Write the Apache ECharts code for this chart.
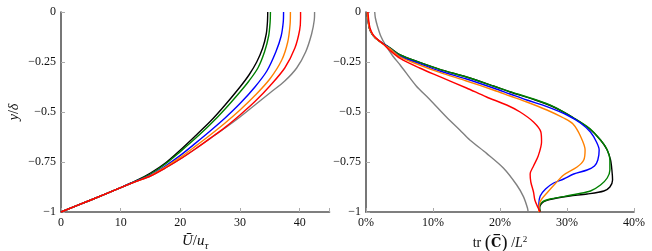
<!DOCTYPE html>
<html><head><meta charset="utf-8">
<script src="https://cdn.jsdelivr.net/npm/echarts@6/dist/echarts.min.js"></script>
<style>html,body{margin:0;padding:0;background:#fff}#c{width:652px;height:251px}</style>
</head><body><div id="c"></div>
<script>
// ---- data (x, y/delta) ----
const yTicks = [0, -0.25, -0.5, -0.75, -1];
const leftXTicks = [0, 10, 20, 30, 40];
const rightXTicks = [0, 10, 20, 30, 40]; // percent

// Left panel: mean velocity U/u_tau vs y/delta
const uGray   = [[0,-1],[5,-0.94],[10,-0.878],[12.5,-0.848],[15,-0.82],[17.5,-0.78],[20,-0.735],[22.5,-0.685],[25,-0.632],[27.5,-0.58],[30,-0.525],[32.5,-0.465],[35,-0.405],[37.5,-0.345],[39.5,-0.28],[41,-0.2],[42,-0.11],[42.45,-0.04],[42.5,0]];
const uBlack  = [[0,-1],[5,-0.94],[10,-0.878],[12.5,-0.845],[15,-0.805],[17.5,-0.755],[20,-0.69],[22.5,-0.62],[25,-0.548],[27.5,-0.465],[30,-0.375],[31.5,-0.315],[32.8,-0.25],[33.8,-0.18],[34.4,-0.11],[34.6,-0.05],[34.65,0]];
const uGreen  = [[0,-1],[5,-0.94],[10,-0.878],[12.5,-0.846],[15,-0.81],[17.5,-0.76],[20,-0.698],[22.5,-0.633],[25,-0.563],[27.5,-0.485],[30,-0.4],[31.5,-0.345],[33,-0.28],[34.1,-0.2],[34.8,-0.12],[35.05,-0.05],[35.1,0]];
const uBlue   = [[0,-1],[5,-0.94],[10,-0.878],[12.5,-0.847],[15,-0.815],[17.5,-0.77],[20,-0.717],[22.5,-0.657],[25,-0.595],[27.5,-0.53],[30,-0.458],[32.5,-0.375],[34.5,-0.295],[36,-0.2],[36.9,-0.12],[37.25,-0.05],[37.3,0]];
const uOrange = [[0,-1],[5,-0.94],[10,-0.878],[12.5,-0.848],[15,-0.818],[17.5,-0.775],[20,-0.727],[22.5,-0.672],[25,-0.615],[27.5,-0.555],[30,-0.49],[32.5,-0.418],[35,-0.335],[37,-0.24],[38,-0.15],[38.4,-0.06],[38.45,0]];
const uRed    = [[0,-1],[5,-0.94],[10,-0.878],[12.5,-0.848],[15,-0.82],[17.5,-0.78],[20,-0.735],[22.5,-0.685],[25,-0.632],[27.5,-0.577],[30,-0.515],[32.5,-0.448],[35,-0.37],[37.5,-0.28],[39.2,-0.18],[40,-0.09],[40.15,-0.03],[40.15,0]];

// Right panel: tr(C)/L^2 in percent vs y/delta
const cGray   = [[1.3,0],[1.4,-0.03],[1.7,-0.07],[2.2,-0.12],[2.9,-0.165],[4,-0.22],[5.1,-0.265],[7.5,-0.37],[9.3,-0.43],[12,-0.525],[14,-0.59],[15.5,-0.64],[18,-0.707],[20.5,-0.78],[22.5,-0.865],[23.5,-0.923],[24.1,-0.98],[24.2,-1]];
const cBlack  = [[0.15,0],[0.3,-0.04],[0.5,-0.08],[0.9,-0.11],[1.4,-0.13],[2.4,-0.155],[3.5,-0.178],[5.1,-0.215],[8,-0.252],[11,-0.287],[15,-0.325],[19,-0.37],[21.5,-0.4],[25,-0.437],[28,-0.475],[31,-0.53],[33.4,-0.585],[35,-0.64],[36,-0.69],[36.5,-0.74],[36.7,-0.79],[36.8,-0.84],[36.4,-0.875],[35.5,-0.895],[33,-0.91],[30.4,-0.92],[28.5,-0.93],[27,-0.942],[26.2,-0.957],[25.9,-0.98],[26,-1]];
const cGreen  = [[0.15,0],[0.3,-0.04],[0.5,-0.08],[0.9,-0.11],[1.4,-0.13],[2.4,-0.155],[3.5,-0.178],[5.1,-0.215],[8,-0.252],[11,-0.287],[15,-0.325],[19,-0.37],[21.5,-0.398],[25,-0.435],[28,-0.473],[31,-0.53],[33.4,-0.583],[35,-0.64],[35.9,-0.683],[36.4,-0.74],[36.4,-0.79],[36,-0.83],[35,-0.865],[33.5,-0.895],[31.5,-0.91],[29.5,-0.923],[27.5,-0.935],[26.3,-0.95],[25.9,-0.975],[26,-1]];
const cBlue   = [[0.15,0],[0.3,-0.04],[0.5,-0.08],[0.9,-0.11],[1.4,-0.13],[2.4,-0.155],[3.5,-0.18],[5.1,-0.222],[8,-0.258],[11,-0.295],[15,-0.335],[19,-0.38],[21.5,-0.41],[24,-0.44],[27,-0.473],[30,-0.515],[32,-0.555],[33.5,-0.6],[34.4,-0.65],[34.8,-0.69],[34.6,-0.74],[34.1,-0.77],[33,-0.79],[31,-0.81],[29.5,-0.835],[28,-0.855],[26.8,-0.885],[26,-0.92],[25.8,-0.96],[25.9,-1]];
const cOrange = [[0.15,0],[0.3,-0.04],[0.5,-0.08],[0.9,-0.11],[1.4,-0.13],[2.4,-0.157],[3.5,-0.182],[5.1,-0.225],[8,-0.265],[11,-0.302],[15,-0.345],[19,-0.39],[21.5,-0.42],[24,-0.45],[27,-0.49],[29.5,-0.53],[30.9,-0.56],[32,-0.62],[32.7,-0.69],[32.5,-0.74],[31.5,-0.775],[29.5,-0.815],[28.2,-0.86],[27,-0.905],[26,-0.948],[25.8,-1]];
const cRed    = [[0.3,0],[0.4,-0.04],[0.6,-0.08],[1.0,-0.11],[1.5,-0.13],[2.5,-0.158],[3.5,-0.19],[5.1,-0.232],[8,-0.28],[11,-0.323],[15,-0.38],[18,-0.425],[21,-0.465],[23,-0.5],[25,-0.55],[26.1,-0.6],[26.2,-0.65],[25.7,-0.72],[25,-0.77],[24.5,-0.81],[24.6,-0.85],[25,-0.9],[25.2,-0.94],[25.7,-0.98],[26,-1]];

const leftSeries  = [uGray, uBlack, uGreen, uBlue, uOrange, uRed];
const rightSeries = [cGray, cBlack, cGreen, cBlue, cOrange, cRed];
const colors = ['#808080', '#000000', '#008000', '#0000ff', '#ff8000', '#ff0000'];

// ---- chart ----
const FONT = 'Liberation Serif';
const axisLine = { show: true, onZero: false, lineStyle: { color: '#555', width: 1.6 } };
const axisTick = { show: true, inside: true, length: 4, lineStyle: { color: '#aaa', width: 1 } };
const lbl = { fontFamily: FONT, fontSize: 12, color: '#111' };
const yFmt = v => (yTicks.includes(v) ? (v === 0 ? '0' : '\u2212' + String(Math.abs(v))) : '');

const chart = echarts.init(document.getElementById('c'), null, { renderer: 'canvas' });
const yAxisBase = {
  type: 'value', min: -1, max: 0, interval: 0.25,
  axisLine, axisTick, splitLine: { show: false },
  axisLabel: Object.assign({ margin: 5, formatter: yFmt, showMinLabel: true, showMaxLabel: true }, lbl)
};
const series = [];
leftSeries.forEach((d, i) => series.push({
  type: 'line', xAxisIndex: 0, yAxisIndex: 0, data: d, showSymbol: false, smooth: 0.3,
  lineStyle: { color: colors[i], width: 1.4 }, z: 2 + i, silent: true
}));
rightSeries.forEach((d, i) => series.push({
  type: 'line', xAxisIndex: 1, yAxisIndex: 1, data: d, showSymbol: false, smooth: 0.3,
  lineStyle: { color: colors[i], width: 1.4 }, z: 2 + i, silent: true
}));

chart.setOption({
  animation: false,
  grid: [
    { left: 61, right: 322.5, top: 12, bottom: 39, containLabel: false, outerBoundsMode: 'none' },
    { left: 366, right: 18, top: 12, bottom: 39, containLabel: false, outerBoundsMode: 'none' }
  ],
  xAxis: [
    {
      gridIndex: 0, type: 'value', min: 0, max: 45, interval: 10,
      axisLine, axisTick, splitLine: { show: false },
      axisLabel: Object.assign({ margin: 5, formatter: v => leftXTicks.includes(v) ? String(v) : '' }, lbl),
      name: '{it|\u016A}{n|/}{it|u}{sub|\u03C4}', nameLocation: 'middle', nameGap: 15,
      nameTextStyle: { rich: {
        it: { fontFamily: FONT, fontStyle: 'italic', fontSize: 15, color: '#111' },
        n: { fontFamily: FONT, fontSize: 15, color: '#111' },
        sub: { fontFamily: FONT, fontStyle: 'italic', fontSize: 11, color: '#111', padding: [10, 0, 0, 0] }
      } }
    },
    {
      gridIndex: 1, type: 'value', min: 0, max: 40, interval: 10,
      axisLine, axisTick, splitLine: { show: false },
      axisLabel: Object.assign({ margin: 5, formatter: v => rightXTicks.includes(v) ? v + '%' : '' }, lbl),
      name: '{n|tr }{p|(}{b|C\u0305}{p|)}{n| /}{it|L}{sup|2}', nameLocation: 'middle', nameGap: 15,
      nameTextStyle: { rich: {
        n: { fontFamily: FONT, fontSize: 14, color: '#111' },
        p: { fontFamily: FONT, fontSize: 19, color: '#111' },
        b: { fontFamily: 'DejaVu Serif', fontWeight: 'bold', fontSize: 13, color: '#111' },
        it: { fontFamily: FONT, fontStyle: 'italic', fontSize: 14, color: '#111' },
        sup: { fontFamily: FONT, fontSize: 9, color: '#111', padding: [0, 0, 8, 0] }
      } }
    }
  ],
  yAxis: [
    Object.assign({}, yAxisBase, {
      gridIndex: 0,
      name: '{it|y}{n|/}{it|\u03B4}', nameLocation: 'middle', nameGap: 40,
      nameTextStyle: { rich: {
        it: { fontFamily: FONT, fontStyle: 'italic', fontSize: 14, color: '#111' },
        n: { fontFamily: FONT, fontSize: 14, color: '#111' }
      } }
    }),
    Object.assign({}, yAxisBase, { gridIndex: 1 })
  ],
  series
});
</script>
</body></html>
